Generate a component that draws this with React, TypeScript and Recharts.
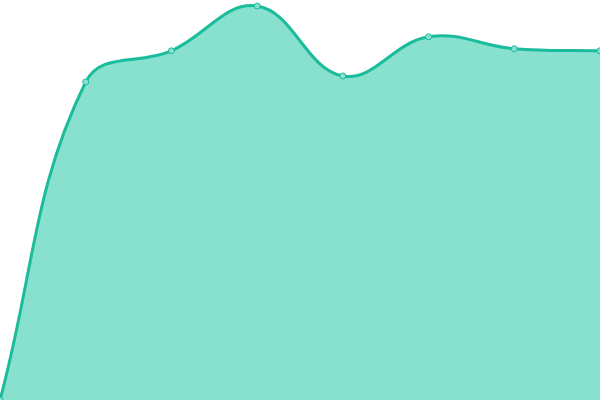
import React from 'react';
import { AreaChart, Area, XAxis, YAxis } from 'recharts';

const labels = ['A', 'B', 'C', 'D', 'E', 'F', 'G', 'H'];
const values = [0, 79.5, 87.3, 98.5, 81, 90.8, 87.8, 87.3];

const data = labels.map((label, i) => ({ label, value: values[i] }));

const LINE = '#1abc9c';
const FILL = '#88e0cf';
const TENSION = 0.4;
const W = 600;
const H = 400;

// cubic spline with tension, control points kept inside the plot
class TensionCurve {
  _context: any;
  _line: number = NaN;
  _pts: number[][] = [];
  constructor(context: any) {
    this._context = context;
  }
  areaStart() {
    this._line = 0;
  }
  areaEnd() {
    this._line = NaN;
  }
  lineStart() {
    this._pts = [];
  }
  point(x: number, y: number) {
    this._pts.push([+x, +y]);
  }
  lineEnd() {
    const p = this._pts;
    const ctx = this._context;
    const clampX = (v: number) => Math.max(0, Math.min(W, v));
    const clampY = (v: number) => Math.max(0, Math.min(H, v));
    if (p.length) {
      if (this._line) ctx.lineTo(p[0][0], p[0][1]);
      else ctx.moveTo(p[0][0], p[0][1]);
      const cps = p.map((cur, i) => {
        const prev = p[i - 1] || cur;
        const next = p[i + 1] || cur;
        const d01 = Math.hypot(cur[0] - prev[0], cur[1] - prev[1]);
        const d12 = Math.hypot(next[0] - cur[0], next[1] - cur[1]);
        let s01 = d01 / (d01 + d12);
        let s12 = d12 / (d01 + d12);
        if (isNaN(s01)) s01 = 0;
        if (isNaN(s12)) s12 = 0;
        const fa = TENSION * s01;
        const fb = TENSION * s12;
        return {
          prev: [clampX(cur[0] - fa * (next[0] - prev[0])), clampY(cur[1] - fa * (next[1] - prev[1]))],
          next: [clampX(cur[0] + fb * (next[0] - prev[0])), clampY(cur[1] + fb * (next[1] - prev[1]))],
        };
      });
      for (let i = 1; i < p.length; i++) {
        const a = cps[i - 1].next;
        const b = cps[i].prev;
        ctx.bezierCurveTo(a[0], a[1], b[0], b[1], p[i][0], p[i][1]);
      }
    }
    if (this._line || (this._line !== 0 && p.length === 1)) ctx.closePath();
    this._line = 1 - this._line;
  }
}

const tensionCurve = (context: any) => new TensionCurve(context);

export default function App() {
  return (
    <div style={{ position: 'absolute', top: 0, left: 0, width: W, height: H, background: '#fff' }}>
      <AreaChart width={W} height={H} data={data} margin={{ top: 0, right: 0, bottom: 0, left: 0 }}>
        <XAxis dataKey="label" hide />
        <YAxis domain={[0, 100]} hide />
        <Area
          type={tensionCurve as any}
          dataKey="value"
          stroke={LINE}
          strokeWidth={3}
          fill={FILL}
          fillOpacity={1}
          dot={{ r: 3, fill: FILL, stroke: LINE, strokeWidth: 1, fillOpacity: 1 }}
          activeDot={false}
          isAnimationActive={false}
        />
      </AreaChart>
    </div>
  );
}
